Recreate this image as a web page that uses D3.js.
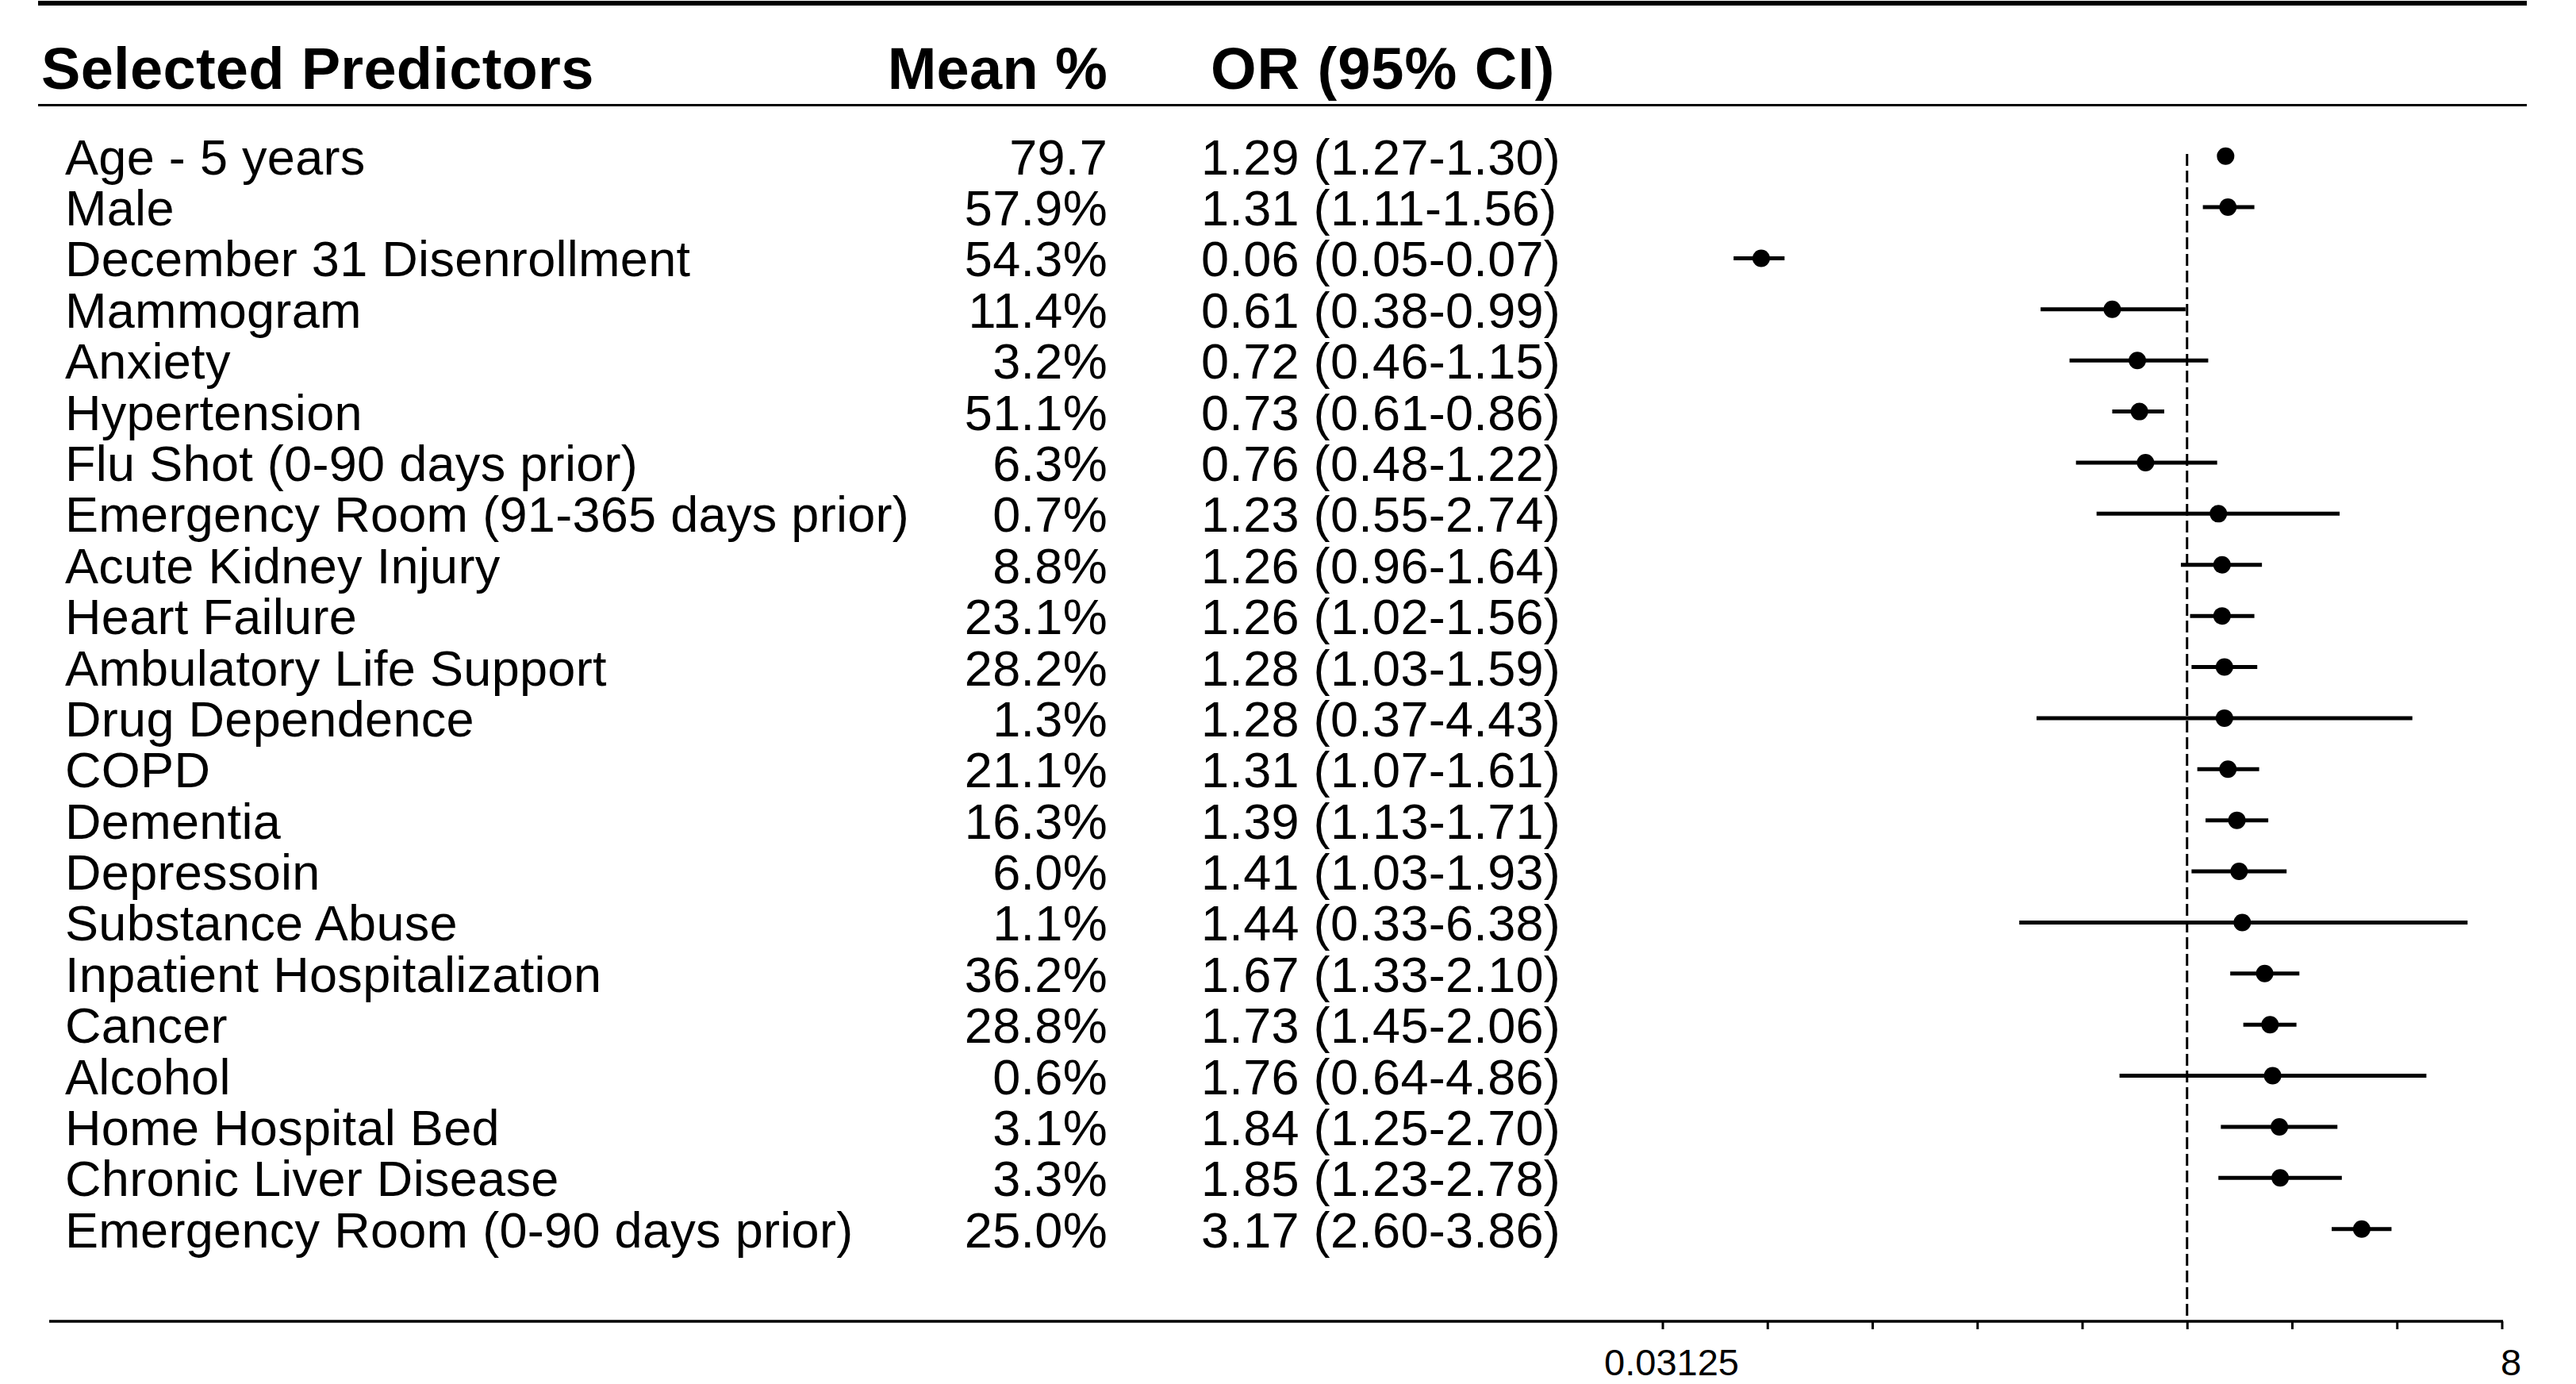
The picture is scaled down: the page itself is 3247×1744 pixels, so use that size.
<!DOCTYPE html>
<html>
<head>
<meta charset="utf-8">
<script src="https://cdn.jsdelivr.net/npm/d3@7"></script>
<style>
  html, body { margin: 0; padding: 0; background: #ffffff; }
  svg { display: block; }
  text { font-family: "Liberation Sans", Arial, Helvetica, sans-serif; fill: #000; }
</style>
</head>
<body>
<script>
// Predictors of the outcome with their prevalence and odds ratios (95% CI)
const predictors = [
  "Age - 5 years", "Male", "December 31 Disenrollment", "Mammogram", "Anxiety",
  "Hypertension", "Flu Shot (0-90 days prior)", "Emergency Room (91-365 days prior)",
  "Acute Kidney Injury", "Heart Failure", "Ambulatory Life Support", "Drug Dependence",
  "COPD", "Dementia", "Depressoin", "Substance Abuse", "Inpatient Hospitalization",
  "Cancer", "Alcohol", "Home Hospital Bed", "Chronic Liver Disease",
  "Emergency Room (0-90 days prior)"
];
const meanLabels = [
  "79.7", "57.9%", "54.3%", "11.4%", "3.2%", "51.1%", "6.3%", "0.7%", "8.8%", "23.1%",
  "28.2%", "1.3%", "21.1%", "16.3%", "6.0%", "1.1%", "36.2%", "28.8%", "0.6%", "3.1%",
  "3.3%", "25.0%"
];
const oddsRatio = [
  1.29, 1.31, 0.06, 0.61, 0.72, 0.73, 0.76, 1.23, 1.26, 1.26, 1.28,
  1.28, 1.31, 1.39, 1.41, 1.44, 1.67, 1.73, 1.76, 1.84, 1.85, 3.17
];
const ciLower = [
  1.27, 1.11, 0.05, 0.38, 0.46, 0.61, 0.48, 0.55, 0.96, 1.02, 1.03,
  0.37, 1.07, 1.13, 1.03, 0.33, 1.33, 1.45, 0.64, 1.25, 1.23, 2.60
];
const ciUpper = [
  1.30, 1.56, 0.07, 0.99, 1.15, 0.86, 1.22, 2.74, 1.64, 1.56, 1.59,
  4.43, 1.61, 1.71, 1.93, 6.38, 2.10, 2.06, 4.86, 2.70, 2.78, 3.86
];
const headers = ["Selected Predictors", "Mean %", "OR (95% CI)"];
const axisTicks = [0.03125, 0.0625, 0.125, 0.25, 0.5, 1, 2, 4, 8];
const axisLabelled = [0.03125, 8];

const W = 3247, H = 1744;
const rows = predictors.map((p, i) => ({
  name: p, mean: meanLabels[i], or: oddsRatio[i], lo: ciLower[i], hi: ciUpper[i]
}));

const svg = d3.select("body").append("svg")
  .attr("width", W).attr("height", H);

svg.append("rect").attr("width", W).attr("height", H).attr("fill", "#fff");

// Scales
const y = d3.scalePoint().domain(predictors).range([196.7, 1548.7]);
const x = d3.scaleLog().base(2).domain([0.03125, 8]).range([2095.5, 3153.5]);
const f2 = d3.format(".2f");

// Column positions
const colName = 82, colMeanRight = 1396, colOR = 1514;
const lineLeft = 48, lineRight = 3185;

// Rules above and below the header
svg.append("line").attr("x1", lineLeft).attr("x2", lineRight)
  .attr("y1", 4).attr("y2", 4).attr("stroke", "#000").attr("stroke-width", 6);
svg.append("line").attr("x1", lineLeft).attr("x2", lineRight)
  .attr("y1", 132.5).attr("y2", 132.5).attr("stroke", "#000").attr("stroke-width", 3);

// Header
const hdr = svg.append("g").attr("font-weight", "bold").attr("font-size", 74)
  .attr("letter-spacing", "0.3px");
hdr.append("text").attr("x", 52).attr("y", 112).text(headers[0]);
hdr.append("text").attr("x", colMeanRight).attr("y", 112).attr("text-anchor", "end").text(headers[1]);
hdr.append("text").attr("x", 1526).attr("y", 112).attr("letter-spacing", "1px").text(headers[2]);

// Table rows
const tbl = svg.append("g").attr("font-size", 63).attr("letter-spacing", "0.3px");
const baseOff = 23;
tbl.selectAll("text.name").data(rows).join("text").attr("class", "name")
  .attr("x", colName).attr("y", d => y(d.name) + baseOff).text(d => d.name);
tbl.selectAll("text.mean").data(rows).join("text").attr("class", "mean")
  .attr("x", colMeanRight).attr("y", d => y(d.name) + baseOff)
  .attr("text-anchor", "end").text(d => d.mean);
tbl.selectAll("text.or").data(rows).join("text").attr("class", "or")
  .attr("x", colOR).attr("y", d => y(d.name) + baseOff)
  .text(d => `${f2(d.or)} (${f2(d.lo)}-${f2(d.hi)})`);

// Bottom axis
const axisY = 1665;
svg.append("line").attr("x1", 62).attr("x2", x(8) + 1.5)
  .attr("y1", axisY).attr("y2", axisY).attr("stroke", "#000").attr("stroke-width", 3.5);

const axis = d3.axisBottom(x)
  .tickValues(axisTicks)
  .tickSize(10)
  .tickSizeOuter(0)
  .tickFormat(d => axisLabelled.includes(d) ? String(d) : "");
const gAxis = svg.append("g").attr("transform", `translate(0,${axisY})`).call(axis);
gAxis.select(".domain").remove();
gAxis.selectAll(".tick line").attr("stroke", "#000").attr("stroke-width", 3);
gAxis.selectAll(".tick text")
  .attr("y", 68).attr("dy", 0).attr("dx", 11)
  .attr("font-size", 47)
  .attr("font-family", "\"Liberation Sans\", Arial, sans-serif")
  .attr("fill", "#000");

// Reference line at OR = 1
svg.append("line").attr("x1", x(1)).attr("x2", x(1))
  .attr("y1", 194).attr("y2", axisY)
  .attr("stroke", "#000").attr("stroke-width", 3)
  .attr("stroke-dasharray", "15,6");

// Confidence intervals and point estimates
const marks = svg.append("g");
marks.selectAll("line.ci").data(rows).join("line").attr("class", "ci")
  .attr("x1", d => x(d.lo)).attr("x2", d => x(d.hi))
  .attr("y1", d => y(d.name)).attr("y2", d => y(d.name))
  .attr("stroke", "#000").attr("stroke-width", 5);
marks.selectAll("circle").data(rows).join("circle")
  .attr("cx", d => x(d.or)).attr("cy", d => y(d.name))
  .attr("r", 11).attr("fill", "#000");
</script>
</body>
</html>
